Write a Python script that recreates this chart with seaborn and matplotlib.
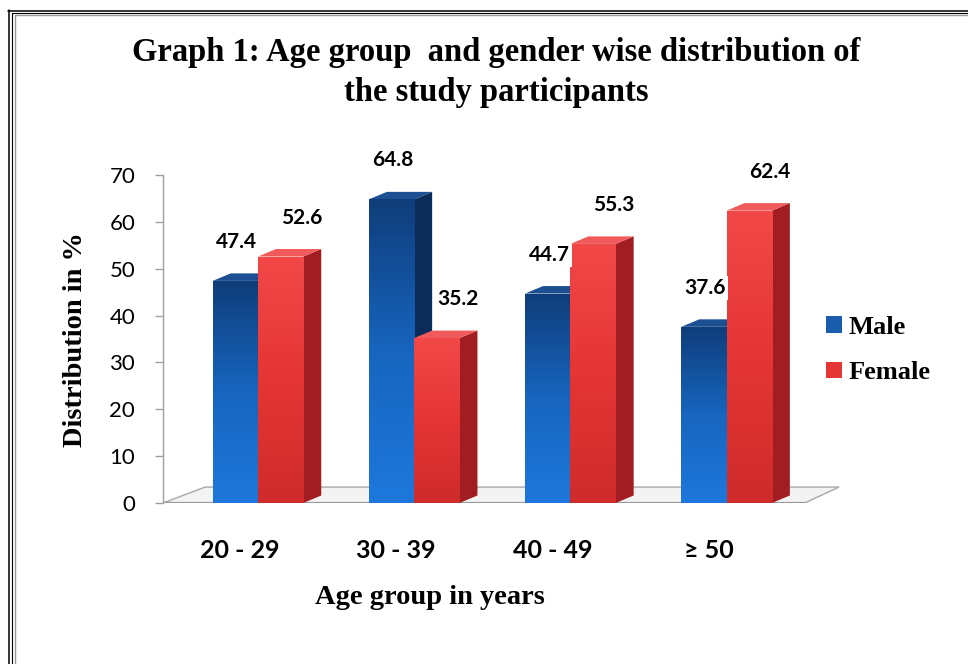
import numpy as np
import pandas as pd
import matplotlib
matplotlib.use("Agg")
import matplotlib.pyplot as plt
import seaborn as sns
from matplotlib.patches import Polygon, Patch
from matplotlib.colors import LinearSegmentedColormap
from matplotlib.lines import Line2D
from matplotlib.transforms import ScaledTranslation
from matplotlib.font_manager import FontProperties

# ---------------- data ----------------
categories = ["20 - 29", "30 - 39", "40 - 49", "\u2265 50"]
series = ["Male", "Female"]
male = [47.4, 64.8, 44.7, 37.6]
female = [52.6, 35.2, 55.3, 62.4]
y_ticks = [0, 10, 20, 30, 40, 50, 60, 70]

title = "Graph 1: Age group  and gender wise distribution of\nthe study participants"
x_title = "Age group in years"
y_title = "Distribution in %"

df = pd.DataFrame({
    "Age": categories * 2,
    "Gender": [series[0]] * len(categories) + [series[1]] * len(categories),
    "Pct": male + female,
})

# ---------------- style ----------------
sns.set_theme(style="white")
plt.rcParams["font.family"] = ["Lato", "DejaVu Sans"]
plt.rcParams["text.color"] = "black"
plt.rcParams["axes.labelcolor"] = "black"
plt.rcParams["xtick.color"] = "black"
plt.rcParams["ytick.color"] = "black"

W, H = 968, 664
fig = plt.figure(figsize=(W / 100, H / 100), dpi=100)
fig.patch.set_facecolor("white")
ax = fig.add_axes([163 / W, 1 - 503 / H, (850 - 163) / W, (503 - 175) / H])
ax.set_facecolor("none")

palette = {"Male": "#1a5cad", "Female": "#e53535"}
sns.barplot(data=df, x="Age", y="Pct", hue="Gender", order=categories,
            hue_order=series, palette=palette, width=0.58, saturation=1,
            errorbar=None, legend=False, ax=ax)

front_cmaps = {
    "Male": LinearSegmentedColormap.from_list("m", ["#1e78dc", "#1765bf", "#0f3d7a"]),
    "Female": LinearSegmentedColormap.from_list("f", ["#cf2b2b", "#e53535", "#f24848"]),
}
side_col = {"Male": "#0b2b58", "Female": "#a11d21"}
top_col = {"Male": "#1d4f93", "Female": "#f05a5a"}
top_z = {"Male": 2.2, "Female": 2.5}
label_dx = {"Male": 1, "Female": 15}

dx, dy = 0.115, 1.6
grad = np.linspace(0, 1, 256).reshape(-1, 1)

for s, cont in zip(series, ax.containers):
    for bar in cont:
        x, w, h = bar.get_x(), bar.get_width(), bar.get_height()
        im = ax.imshow(grad, extent=[x, x + w, 0, h], origin="lower",
                       aspect="auto", cmap=front_cmaps[s], zorder=3)
        im.set_clip_path(bar)
        bar.set_facecolor("none")
        bar.set_edgecolor("none")
        bar.set_zorder(3)
        ax.add_patch(Polygon([(x + w, 0), (x + w + dx, dy), (x + w + dx, h + dy), (x + w, h)],
                             closed=True, fc=side_col[s], ec="none", zorder=2))
        ax.add_patch(Polygon([(x, h), (x + dx, h + dy), (x + w + dx, h + dy), (x + w, h)],
                             closed=True, fc=top_col[s], ec="none", zorder=top_z[s]))
        ax.annotate(f"{h:.1f}", (x + w / 2, h), xytext=(label_dx[s], 28),
                    textcoords="offset points", ha="center", va="center",
                    fontsize=15, fontweight="bold", color="black", zorder=6,
                    bbox=dict(boxstyle="square,pad=0.1", fc="white", ec="none"))

# floor
x0, x1 = -0.608, 3.50
floor = Polygon([(x0, 0), (x1, 0), (x1 + 0.22, 3.4), (x0 + 0.27, 3.4)], closed=True,
                fc="#f3f3f3", ec="#a8a8a8", lw=1.0, zorder=1)
ax.add_patch(floor)
ax.plot([x0, x1], [0, 0], color="#9a9a9a", lw=1.6, zorder=1.1, solid_capstyle="butt")

ax.set_xlim(-0.608, 3.79)
ax.set_ylim(0, 70)
ax.set_yticks(y_ticks)
ax.set_xlabel("")
ax.set_ylabel("")

for sp in ["top", "right", "bottom"]:
    ax.spines[sp].set_visible(False)
ax.spines["left"].set_color("#a0a0a0")
ax.spines["left"].set_linewidth(1.0)

ax.tick_params(axis="y", which="both", left=True, length=6, width=1, color="#a0a0a0",
               direction="out", pad=14, labelsize=16, labelcolor="black")
ax.tick_params(axis="x", length=0, pad=26, labelsize=18, labelcolor="black")
for lab in ax.get_xticklabels():
    lab.set_fontweight("bold")
    lab.set_transform(lab.get_transform() + ScaledTranslation(-0.18, 0, fig.dpi_scale_trans))

# legend
handles = [Patch(facecolor=palette[s], edgecolor="none") for s in series]
leg = ax.legend(handles=handles, labels=series, loc="center left",
                bbox_to_anchor=(826 / W, 1 - 350 / H), bbox_transform=fig.transFigure,
                frameon=False, prop=FontProperties(family="Liberation Serif", weight="bold", size=19),
                handlelength=0.6, handleheight=0.6, handletextpad=0.25, labelspacing=0.85,
                borderpad=0, borderaxespad=0)
for t in leg.get_texts():
    t.set_color("black")

# titles
serif = ["Liberation Serif", "DejaVu Serif"]
fig.text(496 / W, 1 - 72.5 / H, title, ha="center", va="center", family=serif,
         fontweight="bold", fontsize=23.5, linespacing=1.35, color="black")
fig.text(75 / W, 1 - 340 / H, y_title, ha="center", va="center", rotation=90,
         family=serif, fontweight="bold", fontsize=20.5, color="black")
fig.text(430 / W, 1 - 598 / H, x_title, ha="center", va="center",
         family=serif, fontweight="bold", fontsize=20.5, color="black")

# page border (double line at top and left)
def fx(p):
    return p / W

def fy(p):
    return 1 - p / H

fig.add_artist(Line2D([fx(8.5), fx(8.5)], [fy(10), fy(H)], transform=fig.transFigure, color="black", lw=1.1))
fig.add_artist(Line2D([fx(8), fx(W)], [fy(10.5), fy(10.5)], transform=fig.transFigure, color="black", lw=1.1))
fig.add_artist(Line2D([fx(11.5), fx(11.5)], [fy(12.5), fy(H)], transform=fig.transFigure, color="black", lw=0.8))
fig.add_artist(Line2D([fx(11.5), fx(W)], [fy(12.5), fy(12.5)], transform=fig.transFigure, color="black", lw=0.8))
fig.add_artist(Line2D([fx(14.5), fx(14.5)], [fy(14.5), fy(H)], transform=fig.transFigure, color="#9a9a9a", lw=1.0))
fig.add_artist(Line2D([fx(14.5), fx(W)], [fy(14.5), fy(14.5)], transform=fig.transFigure, color="#9a9a9a", lw=1.0))

fig.savefig("out.png", dpi=100, facecolor="white")
